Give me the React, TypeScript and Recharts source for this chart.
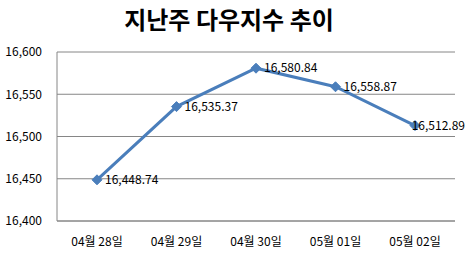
import React from "react";
import { LineChart, Line, XAxis, YAxis, CartesianGrid } from "recharts";

const categories: string[] = ["04월 28일", "04월 29일", "04월 30일", "05월 01일", "05월 02일"];
const dowValues: number[] = [16448.74, 16535.37, 16580.84, 16558.87, 16512.89];
const yTicks: number[] = [16400, 16450, 16500, 16550, 16600];

const data = categories.map((day, i) => ({ day, dow: dowValues[i] }));

const FONT = "'Noto Sans CJK KR', 'Noto Sans', sans-serif";
const LINE_COLOR = "#4A7EBB";

const fmt = (v: number) =>
  v.toLocaleString("en-US", { minimumFractionDigits: 2, maximumFractionDigits: 2 });

const Diamond = (props: any) => {
  const { cx, cy } = props;
  if (cx == null || cy == null) return null;
  const r = 5;
  return (
    <path
      d={`M${cx},${cy - r} L${cx + r},${cy} L${cx},${cy + r} L${cx - r},${cy} Z`}
      fill={LINE_COLOR}
      stroke={LINE_COLOR}
    />
  );
};

const ValueLabel = (props: any) => {
  const { x, y, value } = props;
  const text = fmt(value);
  const overflow = x + 8 + 56 > 466;
  return (
    <text
      x={overflow ? 465 : x + 8}
      y={y + 1}
      textAnchor={overflow ? "end" : "start"}
      dominantBaseline="middle"
      fontSize={12}
      fontFamily={FONT}
      fill="#000"
    >
      {text}
    </text>
  );
};

export default function App() {
  return (
    <div style={{ position: "absolute", left: 0, top: 0, width: 468, height: 257, background: "#fff" }}>
      <div
        style={{
          position: "absolute",
          left: 0,
          top: 3,
          width: 458,
          textAlign: "center",
          fontFamily: FONT,
          fontWeight: 700,
          fontSize: 24,
          lineHeight: "32px",
          color: "#000",
        }}
      >
        지난주 다우지수 추이
      </div>
      <LineChart
        width={468}
        height={257}
        data={data}
        margin={{ top: 52, right: 13, bottom: 0, left: 0 }}
      >
        <CartesianGrid vertical={false} stroke="#868686" />
        <XAxis
          dataKey="day"
          height={36}
          padding={{ left: 40, right: 40 }}
          tickLine={false}
          tickSize={0}
          tickMargin={16}
          axisLine={{ stroke: "#868686" }}
          tick={{ fontSize: 12, fontFamily: FONT, fill: "#000" }}
        />
        <YAxis
          width={57}
          domain={[16400, 16600]}
          ticks={yTicks}
          tickLine={false}
          tickSize={0}
          tickMargin={15}
          axisLine={{ stroke: "#868686" }}
          tickFormatter={(v: number) => v.toLocaleString("en-US")}
          tick={{ fontSize: 12, fontFamily: FONT, fill: "#000" }}
        />
        <Line
          dataKey="dow"
          stroke={LINE_COLOR}
          strokeWidth={3}
          dot={<Diamond />}
          activeDot={false}
          label={<ValueLabel />}
          isAnimationActive={false}
        />
      </LineChart>
    </div>
  );
}
